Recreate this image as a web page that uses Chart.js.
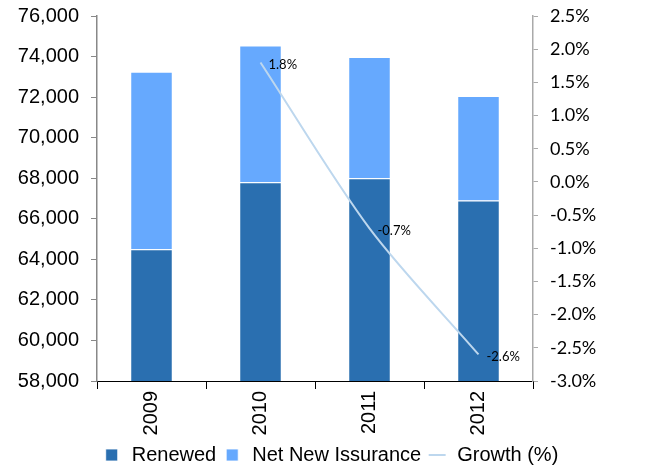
<!DOCTYPE html>
<html>
<head>
<meta charset="utf-8">
<script src="https://cdn.jsdelivr.net/npm/chart.js@4.4.1/dist/chart.umd.min.js"></script>
<style>
  html, body { margin: 0; padding: 0; background: #fff; }
  #wrap { width: 656px; height: 469px; }
</style>
</head>
<body>
<div id="wrap"><canvas id="chart" width="656" height="469"></canvas></div>
<script>
// values
const years = ["2009", "2010", "2011", "2012"];
const renewed = [64500, 67800, 68000, 66900];
const netNew = [8750, 6750, 5980, 5150];
const growth = [null, 1.8, -0.7, -2.6];

const leftTicks = [58000, 60000, 62000, 64000, 66000, 68000, 70000, 72000, 74000, 76000];
const rightTicks = [-3.0, -2.5, -2.0, -1.5, -1.0, -0.5, 0.0, 0.5, 1.0, 1.5, 2.0, 2.5];

// draws the % next to each growth point
const growthLabels = {
    id: "growthLabels",
    afterDatasetsDraw(chart) {
        const ctx = chart.ctx;
        const meta = chart.getDatasetMeta(2);
        ctx.save();
        ctx.font = "13px Lato, 'Noto Sans', sans-serif";
        ctx.fillStyle = "#000";
        ctx.textAlign = "left";
        ctx.textBaseline = "middle";
        meta.data.forEach(function(pt, i) {
            if (growth[i] === null) return;
            ctx.fillText(growth[i].toFixed(1) + "%", pt.x + 8, pt.y + 2);
        });
        ctx.restore();
    }
};

const arial = "'Liberation Sans', Arial, sans-serif";

new Chart(document.getElementById("chart"), {
    type: "bar",
    data: {
        labels: years,
        datasets: [{
            label: "Renewed",
            data: renewed,
            backgroundColor: "#2a6fb0",
            borderColor: "rgba(255,255,255,0.8)",
            borderWidth: 1,
            stack: "s",
            yAxisID: "y",
            barPercentage: 0.39,
            categoryPercentage: 1.0,
            pointStyle: "rect",
            order: 2
        }, {
            label: "Net New Issurance",
            data: netNew,
            backgroundColor: "#66a9fe",
            borderColor: "rgba(255,255,255,0.8)",
            borderWidth: 1,
            stack: "s",
            yAxisID: "y",
            barPercentage: 0.39,
            categoryPercentage: 1.0,
            pointStyle: "rect",
            order: 2
        }, {
            type: "line",
            label: "Growth (%)",
            data: growth,
            borderColor: "#bdd7ee",
            backgroundColor: "#bdd7ee",
            borderWidth: 2,
            pointRadius: 0,
            tension: 0.3,
            yAxisID: "y1",
            pointStyle: "line",
            order: 1
        }]
    },
    options: {
        responsive: false,
        animation: false,
        layout: { padding: { top: 16, left: 4, right: 0, bottom: -6 } },
        plugins: {
            tooltip: { enabled: false },
            legend: {
                position: "bottom",
                labels: {
                    usePointStyle: true,
                    boxHeight: 12,
                    padding: 6,
                    color: "#000",
                    font: { family: arial, size: 20 },
                    sort: (a, b) => a.datasetIndex - b.datasetIndex
                }
            }
        },
        scales: {
            x: {
                stacked: true,
                offset: true,
                grid: { drawOnChartArea: false, offset: true, tickLength: 8, color: "#000" },
                border: { color: "#000", width: 1 },
                ticks: {
                    minRotation: 90,
                    maxRotation: 90,
                    color: "#000",
                    padding: 2,
                    font: { family: arial, size: 20 }
                },
                afterFit(scale) { scale.height = 58; }
            },
            y: {
                stacked: true,
                min: 58000,
                max: 76000,
                afterBuildTicks(scale) { scale.ticks = leftTicks.map(v => ({ value: v })); },
                grid: { drawOnChartArea: false, tickLength: 6, color: "#888" },
                border: { color: "#888", width: 1.5 },
                ticks: {
                    color: "#000",
                    padding: 12,
                    font: { family: arial, size: 20 },
                    callback: v => v.toLocaleString("en-US")
                },
                afterFit(scale) { scale.width = 93; scale.paddingTop = 0; scale.paddingBottom = 0; }
            },
            y1: {
                position: "right",
                min: -3.0,
                max: 2.5,
                afterBuildTicks(scale) { scale.ticks = rightTicks.map(v => ({ value: v })); },
                grid: { drawOnChartArea: false, tickLength: 5, color: "#aaa" },
                border: { color: "#aaa", width: 1.5 },
                ticks: {
                    color: "#000",
                    padding: 12,
                    font: { family: "Lato, 'Noto Sans', sans-serif", size: 18 },
                    callback: v => v.toFixed(1) + "%"
                },
                afterFit(scale) { scale.width = 123; scale.paddingTop = 0; scale.paddingBottom = 0; }
            }
        }
    },
    plugins: [growthLabels]
});
</script>
</body>
</html>
